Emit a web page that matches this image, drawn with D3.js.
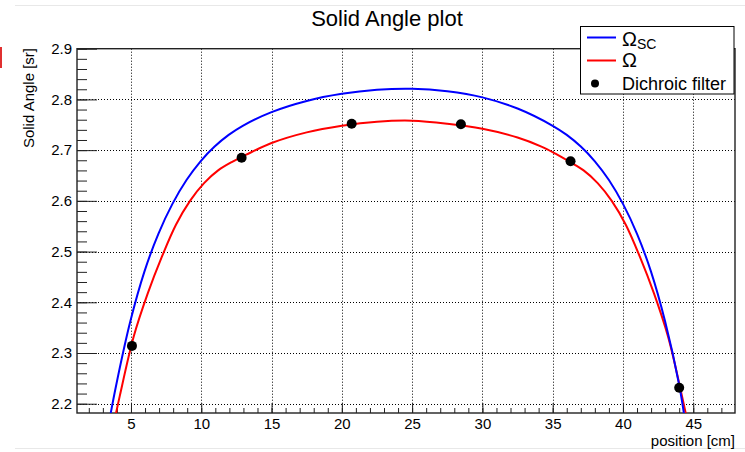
<!DOCTYPE html>
<html>
<head>
<meta charset="utf-8">
<script src="https://cdn.jsdelivr.net/npm/d3@7"></script>
<style>
  html, body { margin: 0; padding: 0; background: #fff; }
  svg { display: block; font-family: "Liberation Sans", Arial, Helvetica, sans-serif; }
</style>
</head>
<body>
<div id="chart" style="width:745px;height:452px"></div>
<script>
// positions along the rail [cm]
const filterX = [5.07, 12.87, 20.7, 28.47, 36.27, 44.0];
// measured solid angle [sr]
const filterY = [2.314, 2.685, 2.752, 2.751, 2.678, 2.2315];

// Omega_SC curve
const scX = [3.35, 3.95, 4.95, 5.95, 6.95, 7.95, 8.95, 9.95, 10.95, 11.95, 12.95, 15, 17.5, 20, 22.5, 25, 27.5, 30, 32.5, 35, 36, 37, 38, 39, 40, 41, 42, 43, 44, 44.5];
const scY = [2.15, 2.237, 2.362, 2.46, 2.535, 2.594, 2.641, 2.678, 2.707, 2.730, 2.748, 2.775, 2.797, 2.811, 2.819, 2.821, 2.816, 2.804, 2.782, 2.748, 2.730, 2.707, 2.678, 2.641, 2.594, 2.535, 2.46, 2.362, 2.237, 2.15];

// Omega curve
const omX = [3.7, 4.2, 5.2, 6.2, 7.2, 8.2, 9.2, 10.2, 11.2, 12.2, 13.2, 15, 17.5, 20, 22.5, 25, 27.5, 30, 32.5, 34.2, 35.2, 36.2, 37.2, 38.2, 39.2, 40.2, 41.2, 42.2, 43.2, 44.2, 44.7];
const omY = [2.15, 2.215, 2.333, 2.418, 2.490, 2.553, 2.600, 2.635, 2.660, 2.677, 2.691, 2.714, 2.735, 2.748, 2.756, 2.758, 2.752, 2.742, 2.725, 2.707, 2.693, 2.677, 2.660, 2.635, 2.600, 2.553, 2.490, 2.418, 2.333, 2.215, 2.15];

const xTicks = [5, 10, 15, 20, 25, 30, 35, 40, 45];
const yTicks = [2.2, 2.3, 2.4, 2.5, 2.6, 2.7, 2.8, 2.9];
const xMinor = d3.range(2, 48, 1);
const yMinor = d3.range(2.2, 2.9001, 0.02);

class SolidAnglePlot {
    constructor({wrapper, frame: {left = 77, right = 735, top = 48.7, bottom = 413} = {}}) {
        this.wrapper = wrapper;
        this.frame = {left, right, top, bottom};
        this.init();
    }

    init() {
        const f = this.frame;
        this.svg = d3.select(this.wrapper).append('svg')
            .attr('width', 745)
            .attr('height', 452);

        this.x = d3.scaleLinear().domain([1.16, 47.97]).range([f.left, f.right]);
        this.y = d3.scaleLinear().domain([2.1817, 2.9]).range([f.bottom, f.top]);

        this.svg.append('defs').append('clipPath').attr('id', 'clip')
            .append('rect')
            .attr('x', f.left).attr('y', f.top)
            .attr('width', f.right - f.left).attr('height', f.bottom - f.top);

        // faint canvas borders
        this.svg.append('line').attr('x1', 15).attr('x2', 745).attr('y1', 5.5).attr('y2', 5.5)
            .attr('stroke', '#e8e8e8');
        this.svg.append('line').attr('x1', 15).attr('x2', 745).attr('y1', 448.5).attr('y2', 448.5)
            .attr('stroke', '#e8e8e8');
        this.svg.append('rect').attr('x', 0).attr('y', 47).attr('width', 2).attr('height', 21)
            .attr('fill', '#e03030');

        this.drawGrid();
        this.drawAxes();
        this.drawCurves();
        this.drawLegend();
        this.drawTexts();
    }

    drawGrid() {
        const f = this.frame;
        const g = this.svg.append('g').attr('class', 'grid')
            .attr('stroke', '#000').attr('stroke-width', 1).attr('stroke-dasharray', '1,2');
        g.selectAll('.gx').data(xTicks).join('line')
            .attr('x1', d => Math.round(this.x(d)) + 0.5).attr('x2', d => Math.round(this.x(d)) + 0.5)
            .attr('y1', f.top).attr('y2', f.bottom);
        g.selectAll('.gy').data(yTicks.filter(d => d < 2.9)).join('line')
            .attr('y1', d => Math.round(this.y(d)) + 0.5).attr('y2', d => Math.round(this.y(d)) + 0.5)
            .attr('x1', f.left).attr('x2', f.right);
    }

    drawAxes() {
        const f = this.frame;
        const fmt = d3.format('.1f');

        const xAxis = d3.axisBottom(this.x).tickValues(xTicks).tickSizeInner(-10).tickSizeOuter(0)
            .tickPadding(5).tickFormat(d => d);
        const gx = this.svg.append('g').attr('transform', `translate(0,${f.bottom})`).call(xAxis);
        gx.select('.domain').remove();
        gx.selectAll('.tick line').attr('stroke', '#222');
        gx.selectAll('.tick text').attr('font-size', 15).attr('fill', '#000')
            .attr('font-family', '"Liberation Sans", Arial, sans-serif');

        const xMin = d3.axisBottom(this.x).tickValues(xMinor).tickSizeInner(-5).tickSizeOuter(0).tickFormat('');
        const gxm = this.svg.append('g').attr('transform', `translate(0,${f.bottom})`).call(xMin);
        gxm.select('.domain').remove();
        gxm.selectAll('.tick line').attr('stroke', '#222');

        const yAxis = d3.axisLeft(this.y).tickValues(yTicks).tickSizeInner(-20).tickSizeOuter(0)
            .tickPadding(5).tickFormat(fmt);
        const gy = this.svg.append('g').attr('transform', `translate(${f.left},0)`).call(yAxis);
        gy.select('.domain').remove();
        gy.selectAll('.tick line').attr('stroke', '#222');
        gy.selectAll('.tick text').attr('font-size', 15).attr('fill', '#000')
            .attr('font-family', '"Liberation Sans", Arial, sans-serif');

        const yMin = d3.axisLeft(this.y).tickValues(yMinor).tickSizeInner(-10).tickSizeOuter(0).tickFormat('');
        const gym = this.svg.append('g').attr('transform', `translate(${f.left},0)`).call(yMin);
        gym.select('.domain').remove();
        gym.selectAll('.tick line').attr('stroke', '#222');

        // frame
        this.svg.append('rect')
            .attr('x', f.left).attr('y', f.top)
            .attr('width', f.right - f.left).attr('height', f.bottom - f.top)
            .attr('fill', 'none').attr('stroke', '#222').attr('stroke-width', 1.4);
    }

    drawCurves() {
        const line = d3.line()
            .x(d => this.x(d[0]))
            .y(d => this.y(d[1]))
            .curve(d3.curveCatmullRom.alpha(0.5));
        const g = this.svg.append('g').attr('clip-path', 'url(#clip)');

        g.append('path').datum(d3.zip(omX, omY))
            .attr('d', line).attr('fill', 'none').attr('stroke', '#ff0000').attr('stroke-width', 2);
        g.append('path').datum(d3.zip(scX, scY))
            .attr('d', line).attr('fill', 'none').attr('stroke', '#0000ff').attr('stroke-width', 2);

        g.selectAll('circle').data(d3.zip(filterX, filterY)).join('circle')
            .attr('cx', d => this.x(d[0])).attr('cy', d => this.y(d[1]))
            .attr('r', 5).attr('fill', '#000');
    }

    drawLegend() {
        const lg = this.svg.append('g');
        lg.append('rect').attr('x', 580.5).attr('y', 26.5).attr('width', 153.5).attr('height', 67.5)
            .attr('fill', '#fff').attr('stroke', '#000').attr('stroke-width', 1);

        lg.append('line').attr('x1', 587).attr('x2', 616).attr('y1', 37.5).attr('y2', 37.5)
            .attr('stroke', '#0000ff').attr('stroke-width', 2);
        const t1 = lg.append('text').attr('x', 622).attr('y', 45.5).attr('font-size', 20);
        t1.append('tspan').text('Ω');
        t1.append('tspan').attr('font-size', 14).attr('dy', 3).text('SC');

        lg.append('line').attr('x1', 587).attr('x2', 616).attr('y1', 60.5).attr('y2', 60.5)
            .attr('stroke', '#ff0000').attr('stroke-width', 2);
        lg.append('text').attr('x', 622).attr('y', 67).attr('font-size', 20).text('Ω');

        lg.append('circle').attr('cx', 595).attr('cy', 83.5).attr('r', 4).attr('fill', '#000');
        lg.append('text').attr('x', 622).attr('y', 90).attr('font-size', 18).text('Dichroic filter');
    }

    drawTexts() {
        this.svg.append('text').attr('x', 387).attr('y', 26).attr('text-anchor', 'middle')
            .attr('font-size', 22).text('Solid Angle plot');
        this.svg.append('text')
            .attr('transform', `translate(34,48) rotate(-90)`)
            .attr('text-anchor', 'end').attr('font-size', 15).text('Solid Angle [sr]');
        this.svg.append('text').attr('x', 735).attr('y', 446).attr('text-anchor', 'end')
            .attr('font-size', 15).text('position [cm]');
    }
}

new SolidAnglePlot({wrapper: document.getElementById('chart')});
</script>
</body>
</html>
